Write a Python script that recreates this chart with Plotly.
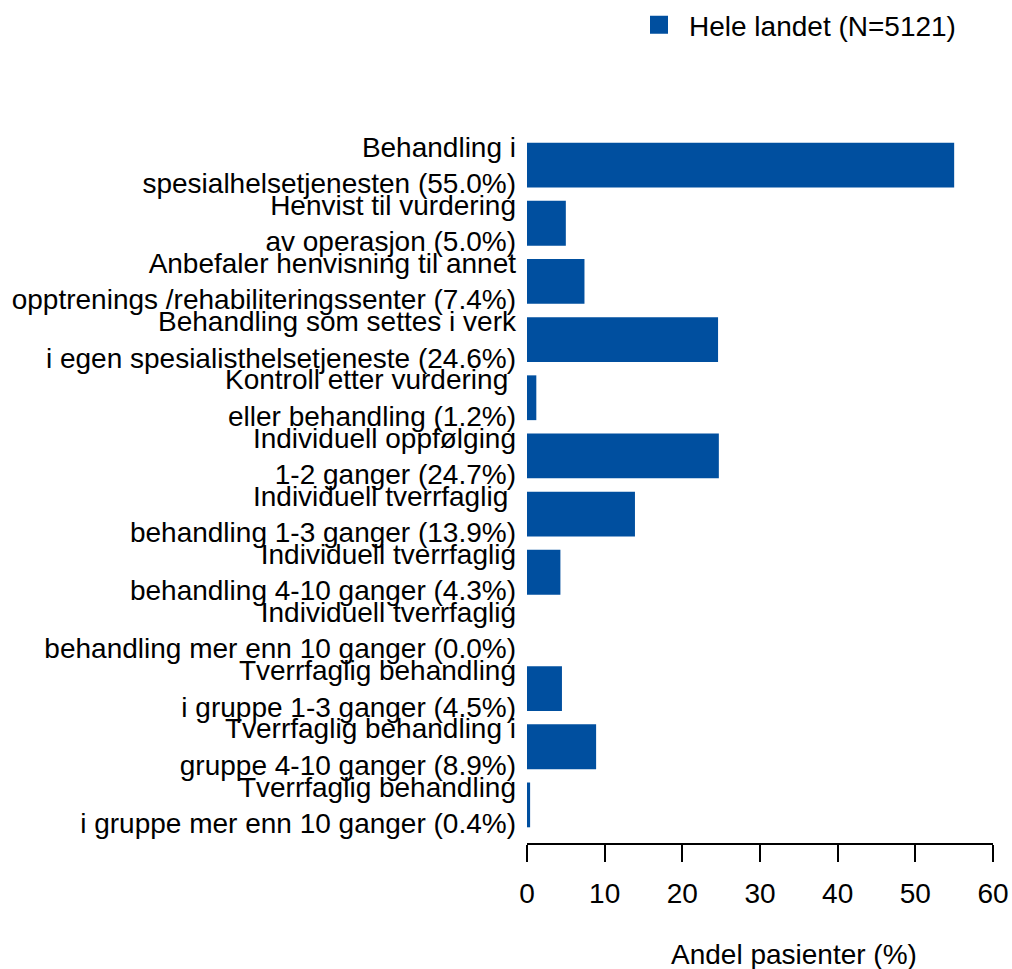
import plotly.graph_objects as go

# Category labels (two lines each) and share of patients in percent
label_line1 = [
    "Behandling i",
    "Henvist til vurdering",
    "Anbefaler henvisning til annet",
    "Behandling som settes i verk",
    "Kontroll etter vurdering ",
    "Individuell oppfølging",
    "Individuell tverrfaglig ",
    "Individuell tverrfaglig",
    "Individuell tverrfaglig",
    "Tverrfaglig behandling",
    "Tverrfaglig behandling i",
    "Tverrfaglig behandling",
]
label_line2 = [
    "spesialhelsetjenesten",
    "av operasjon",
    "opptrenings /rehabiliteringssenter",
    "i egen spesialisthelsetjeneste",
    "eller behandling",
    "1-2 ganger",
    "behandling 1-3 ganger",
    "behandling 4-10 ganger",
    "behandling mer enn 10 ganger",
    "i gruppe 1-3 ganger",
    "gruppe 4-10 ganger",
    "i gruppe mer enn 10 ganger",
]
andel = [55.0, 5.0, 7.4, 24.6, 1.2, 24.7, 13.9, 4.3, 0.0, 4.5, 8.9, 0.4]
x_ticks = [0, 10, 20, 30, 40, 50, 60]
series_name = "Hele landet (N=5121)"

BAR_COLOR = "#004F9F"
FONT = "Liberation Sans, Arial, Helvetica, sans-serif"

positions = list(range(len(andel)))
tick_text = [f"{a}<br>{b} ({v:.1f}%)" for a, b, v in zip(label_line1, label_line2, andel)]

fig = go.Figure()
fig.add_trace(go.Bar(
    x=andel,
    y=positions,
    orientation="h",
    width=0.77,
    marker=dict(color=BAR_COLOR, line=dict(width=0)),
    showlegend=False,
    hoverinfo="x",
))
# legend entry drawn as a filled square
fig.add_trace(go.Scatter(
    x=[None], y=[None],
    mode="markers",
    marker=dict(symbol="square", size=20, color=BAR_COLOR,
                line=dict(color=BAR_COLOR, width=2)),
    name=series_name,
    showlegend=True,
))

fig.update_layout(
    width=1012,
    height=969,
    margin=dict(l=527, r=19, t=136, b=126, autoexpand=False),
    paper_bgcolor="white",
    plot_bgcolor="white",
    font=dict(family=FONT, size=28, color="black"),
    legend=dict(
        orientation="h",
        xref="container", yref="container",
        x=629 / 1012, y=1,
        xanchor="left", yanchor="top",
        itemwidth=50,
        font=dict(size=28),
        bgcolor="rgba(0,0,0,0)",
    ),
    xaxis=dict(
        range=[0, 60],
        tickvals=x_ticks,
        ticktext=[str(t) for t in x_ticks],
        showgrid=False,
        zeroline=False,
        showline=True,
        linecolor="black",
        linewidth=1.5,
        ticks="outside",
        ticklen=17,
        tickwidth=1.5,
        tickcolor="black",
        ticklabelstandoff=8,
        automargin=False,
        fixedrange=True,
    ),
    yaxis=dict(
        range=[len(andel) - 0.5 + 0.155, -0.5],
        tickvals=positions,
        ticktext=tick_text,
        showgrid=False,
        zeroline=False,
        showline=False,
        ticks="",
        ticklabelstandoff=10,
        automargin=False,
        fixedrange=True,
    ),
    annotations=[
        dict(
            text="Andel pasienter (%)",
            xref="paper", yref="paper",
            x=(794 - 527) / 466, y=-(955 - 843) / 707,
            xanchor="center", yanchor="middle",
            showarrow=False,
            font=dict(size=28),
        )
    ],
)

fig.write_html("out.html")
